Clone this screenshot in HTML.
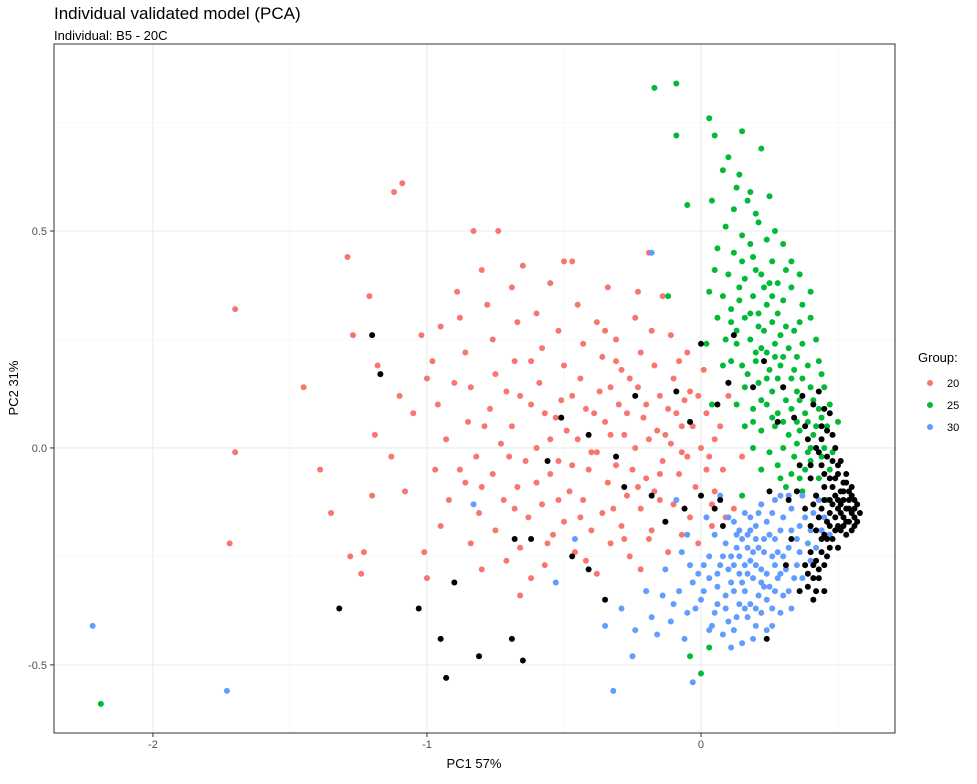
<!DOCTYPE html>
<html><head><meta charset="utf-8"><style>
body{margin:0;background:#fff;font-family:"Liberation Sans",sans-serif}
</style></head><body>
<svg id="chart" width="977" height="779" xmlns="http://www.w3.org/2000/svg" font-family="Liberation Sans, sans-serif">
<rect width="977" height="779" fill="#fff"/>
<text x="54" y="19" font-size="17" fill="#000">Individual validated model (PCA)</text>
<text x="54" y="40" font-size="13" fill="#000">Individual: B5 - 20C</text>
<g id="grid"></g>
<g id="pts"></g>
<rect x="54" y="44" width="841" height="689" fill="none" stroke="#333" stroke-width="1"/>
<g id="axes"></g>
<text x="474" y="768" font-size="13" text-anchor="middle">PC1 57%</text>
<text transform="translate(18,388) rotate(-90)" font-size="13" text-anchor="middle">PC2 31%</text>
<g>
<text x="918" y="362" font-size="13">Group:</text>
<g><circle cx="930" cy="383" r="3" fill="#F8766D"/><text x="947" y="387" font-size="11">20</text></g>
<g><circle cx="930" cy="405" r="3" fill="#00BA38"/><text x="947" y="409" font-size="11">25</text></g>
<g><circle cx="930" cy="427" r="3" fill="#619CFF"/><text x="947" y="431" font-size="11">30</text></g>
</g>
</svg>
<script>
const xTicks=[-2,-1,0];
const xTickLabels=["-2","-1","0"];
const yTicks=[-0.5,0,0.5];
const yTickLabels=["-0.5","0.0","0.5"];
const xMinor=[-1.5,-0.5,0.5];
const yMinor=[-0.25,0.25,0.75];
const groups=["20","25","30","NA"];
const red=[[-1.09,0.61],[-1.12,0.59],[-1.29,0.44],[-1.70,0.32],[-1.45,0.14],[-1.70,-0.01],[-1.72,-0.22],[-1.39,-0.05],[-1.35,-0.15],[-1.28,-0.25],[-1.24,-0.29],[-1.23,-0.24],[-1.27,0.26],[-1.21,0.35],[-1.19,0.03],[-1.20,-0.11],[-1.01,-0.24],[-1.00,-0.30],[-0.83,0.50],[-0.74,0.50],[-0.50,0.43],[-0.47,0.43],[-0.65,0.42],[-0.55,0.38],[-0.80,0.41],[-0.34,0.37],[-0.23,0.36],[-0.19,0.45],[-0.14,0.35],[-0.89,0.36],
[-1.18,0.19],[-1.10,0.12],[-1.05,0.08],[-1.13,-0.02],[-1.08,-0.10],[-1.02,0.26],[-0.98,0.20],[-0.96,0.10],[-0.93,0.02],[-0.97,-0.05],[-0.92,-0.12],[-0.95,-0.18],[-0.88,0.30],[-0.86,0.22],[-0.84,0.14],[-0.85,0.06],[-0.82,-0.02],[-0.86,-0.08],[-0.81,-0.15],[-0.84,-0.22],[-0.78,0.33],[-0.76,0.25],[-0.75,0.17],[-0.77,0.09],[-0.73,0.01],[-0.76,-0.06],[-0.72,-0.12],[-0.75,-0.19],[-0.71,-0.26],[-0.69,0.37],[-0.67,0.29],[-0.68,0.20],[-0.66,0.12],[-0.69,0.05],[-0.64,-0.03],[-0.67,-0.09],[-0.63,-0.16],[-0.66,-0.23],[-0.62,-0.30],[-0.60,0.31],[-0.58,0.23],[-0.59,0.15],[-0.57,0.08],[-0.60,0.00],[-0.55,-0.06],[-0.58,-0.13],[-0.54,-0.20],[-0.57,-0.27],[-0.52,0.27],[-0.50,0.19],[-0.51,0.11],[-0.49,0.04],[-0.52,-0.03],[-0.48,-0.10],[-0.50,-0.17],[-0.46,-0.24],[-0.45,0.33],[-0.43,0.24],[-0.44,0.16],[-0.42,0.09],[-0.45,0.02],[-0.41,-0.05],[-0.43,-0.12],[-0.40,-0.19],[-0.42,-0.26],[-0.38,0.29],[-0.36,0.21],[-0.37,0.13],[-0.35,0.06],[-0.38,-0.01],[-0.34,-0.08],[-0.36,-0.15],[-0.33,-0.22],[-0.31,0.25],[-0.29,0.18],[-0.30,0.10],[-0.28,0.03],[-0.31,-0.04],[-0.27,-0.11],[-0.29,-0.18],[-0.26,-0.25],[-0.24,0.30],[-0.22,0.22],[-0.23,0.14],[-0.21,0.07],[-0.24,0.00],[-0.20,-0.07],[-0.22,-0.14],[-0.19,-0.21],[-0.17,0.19],[-0.15,0.12],[-0.16,0.04],[-0.14,-0.03],[-0.17,-0.10],[-0.13,-0.17],[-0.11,0.26],[-0.10,0.16],[-0.09,0.08],[-0.11,0.01],[-0.08,-0.06],[-0.10,-0.13],[-0.07,-0.20],[-0.05,0.22],[-0.04,0.13],[-0.03,0.05],[-0.05,-0.02],[-0.02,-0.09],[-0.04,-0.16],[0.01,0.18],[0.02,0.08],[0.03,-0.02],[0.05,-0.10],[0.07,0.05],[0.10,0.12],[0.08,-0.05],[0.12,-0.14],[0.15,-0.02],
[-0.95,0.28],[-0.62,0.20],[-0.47,0.12],[-0.33,0.14],[-0.27,0.08],[-0.19,0.02],[-0.12,0.09],[-0.07,-0.01],[-0.53,0.07],[-0.40,-0.01],[-0.25,-0.05],[-0.15,-0.06],[-0.06,0.11],[-0.35,0.27],[-0.70,-0.02],[-0.88,-0.05],[-1.00,0.16],[-0.56,-0.22],[-0.38,-0.29],[-0.22,-0.28],[-0.12,-0.24],[-0.01,-0.22],[0.04,-0.18],[-0.80,-0.28],[-0.66,-0.34],[-0.31,0.20],[-0.18,0.27],[-0.08,0.20],
[0.00,0.00],[0.02,-0.05],[0.05,0.02],[-0.01,0.12],[0.04,-0.13],[0.09,-0.16],[-0.20,0.10],[-0.26,0.16],[-0.33,0.03],[-0.39,0.08],[-0.47,-0.04],[-0.55,0.02],[-0.62,0.10],[-0.71,0.13],[-0.79,0.05],[-0.90,0.15],[-0.13,0.03],[-0.07,0.05],[-0.15,-0.12],[-0.23,-0.09],[-0.32,-0.14],[-0.44,-0.16],[-0.52,-0.12],[-0.60,-0.08],[-0.68,-0.14],[-0.80,-0.09],[-0.18,-0.19],[-0.28,-0.21]];
const green=[[-0.17,0.83],[-0.09,0.84],[-0.09,0.72],[0.03,0.76],[0.05,0.72],[0.15,0.73],[0.22,0.69],[-2.19,-0.59],[-0.12,0.35],[-0.04,-0.48],[0.03,-0.46],[0.00,-0.52],[0.15,-0.11],[-0.05,0.56],[0.08,0.64],[0.13,0.60],[0.18,0.59],[0.04,0.57],[0.12,0.55],[0.20,0.54],[0.09,0.51],[0.15,0.49],[0.24,0.48],[0.30,0.47],[0.06,0.46],[0.12,0.45],[0.19,0.44],[0.26,0.43],[0.05,0.41],[0.10,0.40],[0.16,0.39],[0.22,0.40],[0.28,0.38],[0.36,0.40],[0.03,0.36],[0.08,0.35],[0.14,0.34],[0.19,0.35],[0.24,0.33],[0.30,0.34],[0.37,0.33],[0.40,0.36],[0.06,0.30],[0.11,0.29],[0.16,0.30],[0.21,0.28],[0.26,0.29],[0.31,0.28],[0.36,0.29],[0.40,0.30],[0.09,0.25],[0.13,0.24],[0.18,0.25],[0.22,0.23],[0.27,0.24],[0.32,0.23],[0.37,0.24],[0.42,0.25],[0.11,0.20],[0.15,0.19],[0.20,0.20],[0.25,0.18],[0.29,0.19],[0.34,0.18],[0.39,0.19],[0.43,0.20],[0.10,0.15],[0.16,0.14],[0.21,0.15],[0.26,0.13],[0.30,0.14],[0.35,0.13],[0.40,0.14],[0.45,0.14],[0.13,0.10],[0.19,0.09],[0.24,0.10],[0.28,0.08],[0.33,0.09],[0.38,0.08],[0.43,0.09],[0.47,0.10],[0.16,0.05],[0.22,0.04],[0.27,0.05],[0.32,0.03],[0.36,0.04],[0.41,0.03],[0.46,0.05],[0.50,0.06],[0.19,0.00],[0.25,-0.01],[0.30,0.00],[0.34,-0.02],[0.39,-0.01],[0.44,-0.02],[0.48,-0.01],[0.22,-0.05],[0.28,-0.04],[0.33,-0.06],[0.38,-0.05],[0.43,-0.07],[0.47,-0.05],[0.31,-0.09],[0.37,-0.10],[0.42,-0.11],[0.46,-0.12],[0.17,0.57],[0.21,0.52],[0.27,0.50],[0.33,0.43],[0.33,0.37],[0.02,0.24],[0.08,0.19],[0.14,0.63],[0.10,0.67],[0.25,0.58],[0.18,0.47],[0.23,0.37],[0.28,0.31],[0.13,0.27],[0.35,0.21],[0.27,0.21],[0.44,0.17],[0.04,0.10],[0.35,0.06],[0.29,-0.07],
[0.18,0.31],[0.23,0.27],[0.29,0.26],[0.34,0.27],[0.20,0.22],[0.24,0.22],[0.30,0.21],[0.33,0.16],[0.37,0.16],[0.41,0.11],[0.24,0.16],[0.28,0.16],[0.31,0.11],[0.36,0.11],[0.39,0.06],[0.44,0.07],[0.26,0.07],[0.30,0.06],[0.35,0.01],[0.40,0.00],[0.42,0.05],[0.45,0.00],[0.36,-0.07],[0.40,-0.03],[0.20,0.41],[0.25,0.38],[0.31,0.41],[0.15,0.43],[0.26,0.35],[0.21,0.31],[0.14,0.37],[0.11,0.32],[0.17,0.17],[0.22,0.11],[0.19,0.06]];
const blue=[[-2.22,-0.41],[-1.73,-0.56],[-0.32,-0.56],[-0.03,-0.54],[-0.83,-0.13],[-0.53,-0.31],[-0.46,-0.21],[-0.18,0.45],[-0.35,-0.41],[-0.25,-0.48],[-0.16,-0.43],[-0.09,-0.12],[-0.05,-0.20],[-0.13,-0.28],[-0.08,-0.33],[-0.02,-0.37],[-0.11,-0.40],[-0.29,-0.37],[-0.20,-0.33],[-0.14,-0.34],[-0.06,-0.44],[0.04,-0.41],[-0.01,-0.29],[0.03,-0.25],[0.06,-0.32],[0.09,-0.37],[0.12,-0.42],[0.05,-0.20],[0.09,-0.22],[0.12,-0.27],[0.15,-0.31],[0.18,-0.36],[0.20,-0.41],[0.10,-0.16],[0.14,-0.19],[0.17,-0.23],[0.20,-0.27],[0.23,-0.32],[0.26,-0.37],[0.16,-0.15],[0.20,-0.18],[0.23,-0.21],[0.26,-0.25],[0.29,-0.29],[0.32,-0.33],[0.22,-0.13],[0.26,-0.15],[0.29,-0.19],[0.32,-0.23],[0.35,-0.27],[0.29,-0.11],[0.33,-0.14],[0.36,-0.18],[0.39,-0.22],[0.37,-0.11],[0.41,-0.15],[0.44,-0.19],[0.07,-0.27],[0.11,-0.31],[0.14,-0.36],[0.17,-0.29],[0.21,-0.34],[0.24,-0.29],[0.27,-0.33],[0.19,-0.24],[0.22,-0.28],[0.13,-0.23],[0.16,-0.27],[0.25,-0.20],[0.28,-0.24],[0.31,-0.28],[0.08,-0.43],[0.15,-0.45],[0.24,-0.42],[0.01,-0.33],[-0.04,-0.27],[0.02,-0.16],[0.07,-0.11],[0.35,-0.21],[0.40,-0.26],[0.18,-0.19],[0.21,-0.23],[0.15,-0.21],[0.11,-0.25],[0.27,-0.27],[0.30,-0.16],[0.34,-0.30],[0.12,-0.33],[0.05,-0.38],[-0.07,-0.24],[0.17,-0.39],[0.29,-0.38],[0.43,-0.12],[0.47,-0.20],[-0.24,-0.42],[-0.18,-0.39],
[0.13,-0.20],[0.17,-0.20],[0.20,-0.21],[0.23,-0.24],[0.18,-0.26],[0.14,-0.29],[0.10,-0.28],[0.16,-0.33],[0.19,-0.30],[0.22,-0.31],[0.25,-0.32],[0.28,-0.30],[0.30,-0.34],[0.24,-0.35],[0.20,-0.37],[0.13,-0.39],[0.09,-0.34],[0.06,-0.29],[0.03,-0.30],[0.00,-0.35],[-0.05,-0.38],[-0.10,-0.36],[0.08,-0.25],[0.12,-0.17],[0.18,-0.16],[0.24,-0.17],[0.27,-0.21],[0.30,-0.25],[0.33,-0.19],[0.36,-0.24],[0.38,-0.16],[0.32,-0.11],[0.27,-0.12],[0.21,-0.15],[0.14,-0.25],[0.22,-0.38],[0.26,-0.41],[0.10,-0.40],[0.03,-0.42],[0.06,-0.36],[0.01,-0.27],[-0.03,-0.31],[0.19,-0.44],[0.11,-0.46],[0.16,-0.37],[0.33,-0.37],[0.37,-0.30],[0.42,-0.23],[0.45,-0.16],[0.40,-0.19]];
const black=[[-1.20,0.26],[-1.17,0.17],[-1.32,-0.37],[-1.03,-0.37],[-0.95,-0.44],[-0.93,-0.53],[-0.90,-0.31],[-0.81,-0.48],[-0.69,-0.44],[-0.65,-0.49],[-0.68,-0.21],[-0.51,0.07],[-0.47,-0.25],[-0.35,-0.35],[-0.41,0.03],[-0.28,-0.09],[-0.18,-0.11],[0.00,0.24],[0.00,-0.11],[0.06,0.10],[0.24,-0.44],[0.36,-0.33],[0.25,-0.10],[0.31,-0.27],[-0.56,-0.03],[-0.41,-0.28],[-0.62,-0.21],[0.10,0.15],[0.07,-0.12],[0.19,0.14],[0.30,0.14],[0.34,0.07],[0.39,0.02],[0.43,-0.01],[0.46,0.04],[0.41,0.10],[0.49,0.00],[0.45,-0.06],[0.40,-0.07],[0.36,-0.04],[0.50,-0.04],[0.53,-0.06],[0.48,-0.09],[0.52,-0.10],[0.55,-0.11],[0.57,-0.13],[0.54,-0.14],[0.51,-0.13],[0.49,-0.16],[0.53,-0.17],[0.56,-0.16],[0.58,-0.15],[0.55,-0.19],[0.51,-0.19],[0.48,-0.21],[0.46,-0.17],[0.44,-0.14],[0.42,-0.11],[0.50,-0.23],[0.46,-0.25],[0.44,-0.21],[0.40,-0.18],[0.43,-0.28],[0.41,-0.30],[0.40,-0.24],[0.38,-0.14],[0.35,-0.10],[0.52,-0.08],[0.54,-0.12],[0.56,-0.14],[0.57,-0.17],[0.53,-0.20],[0.50,-0.18],[0.47,-0.12],[0.45,-0.09],[0.49,-0.07],[0.51,-0.15],[0.55,-0.09],[0.47,0.08],[0.44,0.05],[0.37,0.12],[0.28,0.06],[0.32,-0.12],[0.23,0.20],[0.12,0.26],[0.42,-0.33],[0.38,-0.27],[0.33,-0.21],[0.08,-0.18],[0.05,-0.14],[-0.06,-0.14],[-0.13,-0.17],[-0.09,0.13],[-0.04,0.06],[-0.31,-0.02],[-0.24,0.12],
[0.52,-0.12],[0.53,-0.14],[0.55,-0.15],[0.56,-0.12],[0.54,-0.10],[0.51,-0.10],[0.50,-0.12],[0.52,-0.16],[0.50,-0.14],[0.48,-0.13],[0.49,-0.11],[0.54,-0.17],[0.56,-0.18],[0.52,-0.18],[0.49,-0.19],[0.47,-0.15],[0.45,-0.12],[0.47,-0.07],[0.50,-0.06],[0.53,-0.08],[0.51,-0.03],[0.48,-0.03],[0.46,-0.02],[0.44,-0.04],[0.47,-0.18],[0.45,-0.20],[0.47,-0.23],[0.44,-0.24],[0.42,-0.26],[0.43,-0.30],[0.45,-0.27],[0.41,-0.27],[0.39,-0.29],[0.46,-0.21],[0.42,-0.19],[0.43,-0.16],[0.41,-0.13],[0.44,0.02],[0.42,0.00],[0.45,0.09],[0.43,0.13],[0.38,0.05],[0.40,-0.04],[0.48,0.03],[0.45,-0.33],[0.39,-0.32],[0.41,-0.35]];
const colors={"20":"#F8766D","25":"#00BA38","30":"#619CFF","NA":"#000000"};
const X0=-2.361,X1=0.708,Y0=-0.657,Y1=0.931,PL=54,PR=895,PT=44,PB=733;
function sx(v){return PL+(v-X0)/(X1-X0)*(PR-PL);}
function sy(v){return PB-(v-Y0)/(Y1-Y0)*(PB-PT);}
const NS="http://www.w3.org/2000/svg";
const grid=document.getElementById('grid'),axes=document.getElementById('axes'),pts=document.getElementById('pts');
function line(p,x1,y1,x2,y2,c,w){const l=document.createElementNS(NS,'line');l.setAttribute('x1',x1);l.setAttribute('y1',y1);l.setAttribute('x2',x2);l.setAttribute('y2',y2);l.setAttribute('stroke',c);l.setAttribute('stroke-width',w);p.appendChild(l);return l;}
xMinor.forEach(v=>{const l=line(grid,sx(v),PT,sx(v),PB,'#f3f3f3',0.6);

});
yMinor.forEach(v=>{const l=line(grid,PL,sy(v),PR,sy(v),'#f3f3f3',0.6);

});
xTicks.forEach((v,i)=>{const l=line(grid,sx(v),PT,sx(v),PB,'#ebebeb',1.1);


line(axes,sx(v),PB,sx(v),PB+4,'#333',1);
const t=document.createElementNS(NS,'text');t.setAttribute('x',sx(v));t.setAttribute('y',PB+15);t.setAttribute('text-anchor','middle');t.setAttribute('font-size','11');t.setAttribute('fill','#4d4d4d');t.textContent=xTickLabels[i];


axes.appendChild(t);});
yTicks.forEach((v,i)=>{const l=line(grid,PL,sy(v),PR,sy(v),'#ebebeb',1.1);


line(axes,PL-4,sy(v),PL,sy(v),'#333',1);
const t=document.createElementNS(NS,'text');t.setAttribute('x',PL-7);t.setAttribute('y',sy(v)+4);t.setAttribute('text-anchor','end');t.setAttribute('font-size','11');t.setAttribute('fill','#4d4d4d');t.textContent=yTickLabels[i];


axes.appendChild(t);});
[[red,"20"],[green,"25"],[blue,"30"],[black,"NA"]].forEach(([arr,g])=>{arr.forEach(p=>{const c=document.createElementNS(NS,'circle');c.setAttribute('cx',sx(p[0]));c.setAttribute('cy',sy(p[1]));c.setAttribute('r',3);c.setAttribute('fill',colors[g]);


pts.appendChild(c);});});
</script>
</body></html>
